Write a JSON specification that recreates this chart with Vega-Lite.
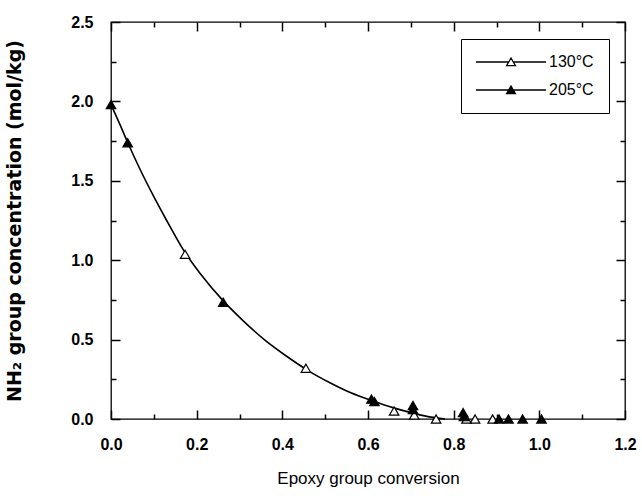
{
  "$schema": "https://vega.github.io/schema/vega-lite/v6.json",
  "width": 514,
  "height": 397,
  "autosize": {"type": "none"},
  "padding": {"left": 111, "top": 22, "right": 17, "bottom": 80},
  "background": "white",
  "config": {
    "view": {"stroke": "black", "strokeWidth": 1.3},
    "font": "Liberation Sans",
    "axis": {
      "domain": false,
      "tickColor": "black",
      "tickWidth": 1.5,
      "grid": false,
      "labelFont": "Liberation Sans",
      "labelFontSize": 16,
      "labelFontWeight": "bold",
      "labelColor": "black",
      "labelFlush": false,
      "labelOverlap": false,
      "labelBound": false,
      "titleColor": "black",
      "titleFont": "Liberation Sans"
    }
  },
  "datasets": {
    "curve": [
      {"x": 0.0, "y": 1.98},
      {"x": 0.02, "y": 1.86},
      {"x": 0.04, "y": 1.735},
      {"x": 0.07, "y": 1.56},
      {"x": 0.1, "y": 1.40},
      {"x": 0.13, "y": 1.25},
      {"x": 0.17, "y": 1.06},
      {"x": 0.21, "y": 0.91},
      {"x": 0.26, "y": 0.75},
      {"x": 0.31, "y": 0.615},
      {"x": 0.36, "y": 0.495},
      {"x": 0.41, "y": 0.395},
      {"x": 0.46, "y": 0.305},
      {"x": 0.51, "y": 0.23},
      {"x": 0.56, "y": 0.165},
      {"x": 0.61, "y": 0.115},
      {"x": 0.66, "y": 0.07},
      {"x": 0.70, "y": 0.04},
      {"x": 0.74, "y": 0.015},
      {"x": 0.78, "y": 0.0}
    ],
    "points": [
      {"x": 0.173, "y": 1.037, "T": "130°C"},
      {"x": 0.455, "y": 0.32, "T": "130°C"},
      {"x": 0.661, "y": 0.05, "T": "130°C"},
      {"x": 0.708, "y": 0.025, "T": "130°C"},
      {"x": 0.759, "y": 0.0, "T": "130°C"},
      {"x": 0.83, "y": 0.0, "T": "130°C"},
      {"x": 0.85, "y": 0.0, "T": "130°C"},
      {"x": 0.891, "y": 0.0, "T": "130°C"},
      {"x": 0.0, "y": 1.98, "T": "205°C"},
      {"x": 0.039, "y": 1.74, "T": "205°C"},
      {"x": 0.262, "y": 0.735, "T": "205°C"},
      {"x": 0.608, "y": 0.125, "T": "205°C"},
      {"x": 0.615, "y": 0.11, "T": "205°C"},
      {"x": 0.705, "y": 0.085, "T": "205°C"},
      {"x": 0.705, "y": 0.06, "T": "205°C"},
      {"x": 0.822, "y": 0.04, "T": "205°C"},
      {"x": 0.824, "y": 0.015, "T": "205°C"},
      {"x": 0.906, "y": 0.0, "T": "205°C"},
      {"x": 0.928, "y": 0.0, "T": "205°C"},
      {"x": 0.961, "y": 0.0, "T": "205°C"},
      {"x": 1.005, "y": 0.0, "T": "205°C"}
    ]
  },
  "resolve": {"axis": {"x": "independent", "y": "independent"}},
  "layer": [
    {
      "data": {"name": "curve"},
      "mark": {"type": "line", "strokeOpacity": 0},
      "encoding": {
        "x": {
          "field": "x", "type": "quantitative",
          "scale": {"domain": [0, 1.2], "nice": false, "zero": false},
          "axis": {"orient": "top", "labels": false, "title": null, "values": [0, 0.2, 0.4, 0.6, 0.8, 1.0, 1.2], "tickSize": 9, "offset": -9}
        },
        "y": {
          "field": "y", "type": "quantitative",
          "scale": {"domain": [0, 2.5], "nice": false, "zero": false},
          "axis": {"orient": "right", "labels": false, "title": null, "values": [0, 0.5, 1.0, 1.5, 2.0, 2.5], "tickSize": 9, "offset": -9}
        }
      }
    },
    {
      "data": {"name": "curve"},
      "mark": {"type": "line", "strokeOpacity": 0},
      "encoding": {
        "x": {
          "field": "x", "type": "quantitative",
          "scale": {"domain": [0, 1.2], "nice": false, "zero": false},
          "axis": {"orient": "top", "labels": false, "title": null, "values": [0.1, 0.3, 0.5, 0.7, 0.9, 1.1], "tickSize": 5, "offset": -5}
        },
        "y": {
          "field": "y", "type": "quantitative",
          "scale": {"domain": [0, 2.5], "nice": false, "zero": false},
          "axis": {"orient": "right", "labels": false, "title": null, "values": [0.25, 0.75, 1.25, 1.75, 2.25], "tickSize": 5, "offset": -5}
        }
      }
    },
    {
      "data": {"name": "curve"},
      "mark": {"type": "line", "strokeOpacity": 0},
      "encoding": {
        "x": {
          "field": "x", "type": "quantitative",
          "scale": {"domain": [0, 1.2], "nice": false, "zero": false},
          "axis": {"orient": "bottom", "labels": false, "title": null, "values": [0, 0.2, 0.4, 0.6, 0.8, 1.0, 1.2], "tickSize": 9, "offset": -9}
        },
        "y": {
          "field": "y", "type": "quantitative",
          "scale": {"domain": [0, 2.5], "nice": false, "zero": false},
          "axis": {"orient": "left", "labels": false, "title": null, "values": [0, 0.5, 1.0, 1.5, 2.0, 2.5], "tickSize": 9, "offset": -9}
        }
      }
    },
    {
      "data": {"name": "curve"},
      "mark": {"type": "line", "interpolate": "monotone", "color": "black", "strokeWidth": 1.6},
      "encoding": {
        "x": {
          "field": "x", "type": "quantitative",
          "scale": {"domain": [0, 1.2], "nice": false, "zero": false},
          "axis": {"orient": "bottom", "labels": false, "title": null, "values": [0.1, 0.3, 0.5, 0.7, 0.9, 1.1], "tickSize": 5, "offset": -5}
        },
        "y": {
          "field": "y", "type": "quantitative",
          "scale": {"domain": [0, 2.5], "nice": false, "zero": false},
          "axis": {"orient": "left", "labels": false, "title": null, "values": [0.25, 0.75, 1.25, 1.75, 2.25], "tickSize": 5, "offset": -5}
        }
      }
    },
    {
      "data": {"name": "points"},
      "mark": {"type": "point", "shape": "triangle-up", "filled": true, "stroke": "black", "strokeWidth": 1.2, "size": 90, "opacity": 1, "clip": false},
      "encoding": {
        "x": {
          "field": "x", "type": "quantitative",
          "scale": {"domain": [0, 1.2], "nice": false, "zero": false},
          "axis": {
            "orient": "bottom",
            "ticks": false,
            "title": "Epoxy group conversion",
            "titleFontSize": 17,
            "titleFontWeight": "normal",
            "titlePadding": 18,
            "labelPadding": 17,
            "values": [0, 0.2, 0.4, 0.6, 0.8, 1.0, 1.2],
            "format": ".1f"
          }
        },
        "y": {
          "field": "y", "type": "quantitative",
          "scale": {"domain": [0, 2.5], "nice": false, "zero": false},
          "axis": {
            "orient": "left",
            "ticks": false,
            "title": "NH₂  group concentration (mol/kg)",
            "titleFont": "DejaVu Sans",
            "titleFontSize": 19,
            "titleFontWeight": "bold",
            "titlePadding": 46,
            "labelPadding": 18,
            "values": [0, 0.5, 1.0, 1.5, 2.0, 2.5],
            "format": ".1f"
          }
        },
        "fill": {
          "field": "T", "type": "nominal",
          "scale": {"domain": ["130°C", "205°C"], "range": ["white", "black"]},
          "legend": {
            "orient": "none",
            "legendX": 350,
            "legendY": 17,
            "title": null,
            "strokeColor": "black",
            "fillColor": "white",
            "padding": 15,
            "symbolType": "M-8.75,0H-0.58 M0.58,0H8.75 M0,-1L1.1,0.9L-1.1,0.9Z",
            "symbolSize": 64,
            "symbolStrokeColor": "black",
            "symbolStrokeWidth": 1.3,
            "symbolOffset": 27,
            "labelOffset": 30,
            "labelFontSize": 16,
            "labelFont": "Liberation Sans",
            "labelColor": "black",
            "rowPadding": 12
          }
        }
      }
    }
  ]
}
